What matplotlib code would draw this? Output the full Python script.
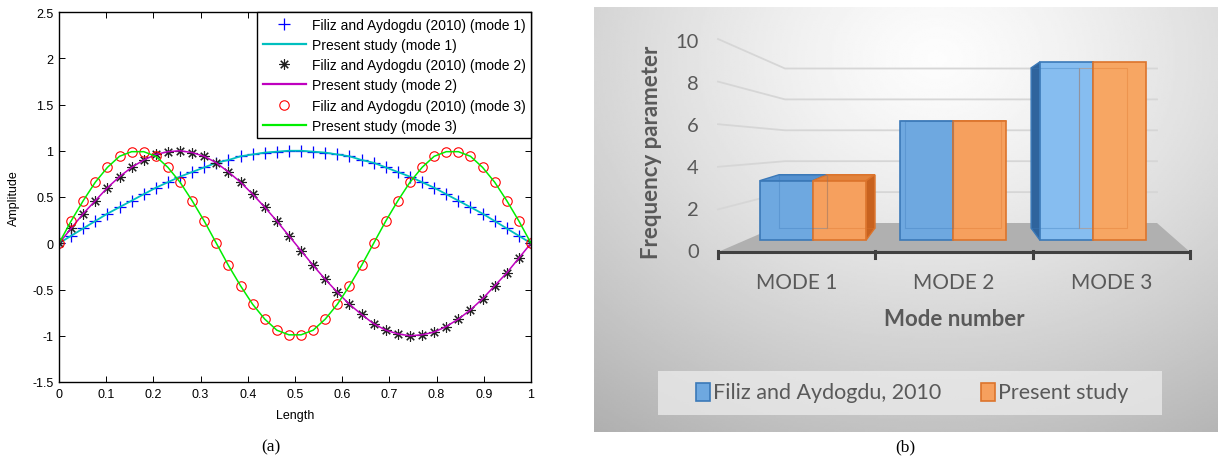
import numpy as np
import matplotlib.pyplot as plt
from matplotlib.patches import Polygon, Rectangle

plt.rcParams['axes.unicode_minus'] = False

# ---- panel (a): mode shapes at the 40 marker positions
mode1 = [0.00, 0.08, 0.16, 0.24, 0.32, 0.39, 0.46, 0.53, 0.60, 0.66,
         0.72, 0.77, 0.82, 0.87, 0.90, 0.94, 0.96, 0.98, 0.99, 1.00,
         1.00, 0.99, 0.98, 0.96, 0.94, 0.90, 0.87, 0.82, 0.77, 0.72,
         0.66, 0.60, 0.53, 0.46, 0.39, 0.32, 0.24, 0.16, 0.08, 0.00]
mode2 = [0.00, 0.16, 0.32, 0.46, 0.60, 0.72, 0.82, 0.90, 0.96, 0.99,
         1.00, 0.98, 0.94, 0.87, 0.77, 0.66, 0.53, 0.39, 0.24, 0.08,
         -0.08, -0.24, -0.39, -0.53, -0.66, -0.77, -0.87, -0.94, -0.98, -1.00,
         -0.99, -0.96, -0.90, -0.82, -0.72, -0.60, -0.46, -0.32, -0.16, 0.00]
mode3 = [0.00, 0.24, 0.46, 0.66, 0.82, 0.94, 0.99, 0.99, 0.94, 0.82,
         0.66, 0.46, 0.24, 0.00, -0.24, -0.46, -0.66, -0.82, -0.94, -0.99,
         -0.99, -0.94, -0.82, -0.66, -0.46, -0.24, 0.00, 0.24, 0.46, 0.66,
         0.82, 0.94, 0.99, 0.99, 0.94, 0.82, 0.66, 0.46, 0.24, 0.00]

# ---- panel (b): frequency parameters
mode_names = ['MODE 1', 'MODE 2', 'MODE 3']
filiz = [3.14, 6.28, 9.42]
present = [3.14, 6.28, 9.42]
yticks_b = [0, 2, 4, 6, 8, 10]

W, H = 1220, 460
fig = plt.figure(figsize=(W / 100, H / 100), dpi=100)

# ================= panel (a) =================
axa = fig.add_axes([59 / W, 1 - 383 / H, 472 / W, 370 / H])
x = np.linspace(0, 1, len(mode1))
star = (8, 2, 0)
axa.plot(x, mode1, '+', color='b', ms=8, mew=0.9, label='Filiz and Aydogdu (2010) (mode 1)')
axa.plot(x, mode1, '-', color='c', lw=1.3, label='Present study (mode 1)')
axa.plot(x, mode2, ls='none', marker=star, color='#202020', ms=7.5, mew=0.8,
         label='Filiz and Aydogdu (2010) (mode 2)')
axa.plot(x, mode2, '-', color='m', lw=1.1, label='Present study (mode 2)')
axa.plot(x, mode3, 'o', mec='r', mfc='none', ms=6.8, mew=0.8, label='Filiz and Aydogdu (2010) (mode 3)')
axa.plot(x, mode3, '-', color='#00ee00', lw=1.1, label='Present study (mode 3)')

axa.set_xlim(0, 1)
axa.set_ylim(-1.5, 2.5)
axa.set_xticks(np.arange(0, 1.01, 0.1))
axa.set_xticklabels(['0', '0.1', '0.2', '0.3', '0.4', '0.5', '0.6', '0.7', '0.8', '0.9', '1'])
axa.set_yticks(np.arange(-1.5, 2.51, 0.5))
axa.set_yticklabels(['-1.5', '-1', '-0.5', '0', '0.5', '1', '1.5', '2', '2.5'])
axa.tick_params(direction='in', top=True, right=True, length=4, width=0.7,
                labelsize=9, pad=4)
for s in axa.spines.values():
    s.set_linewidth(1.0)
for t in axa.get_xticklabels() + axa.get_yticklabels():
    t.set_family('Liberation Sans')
axa.set_xlabel('Length', family='Liberation Sans', fontsize=9, labelpad=7)
axa.set_ylabel('Amplitude', family='Liberation Sans', fontsize=9, labelpad=9)
leg = axa.legend(loc='upper right', borderaxespad=0, fancybox=False, edgecolor='k',
                 framealpha=1, prop={'family': 'Liberation Sans', 'size': 10},
                 handlelength=3.1, labelspacing=0.45, borderpad=0.4, handletextpad=0.4)
leg.get_frame().set_linewidth(1.0)
for h in leg.get_lines():
    if h.get_linestyle() == '-':
        h.set_linewidth(1.6)
fig.text(271 / W, 1 - 447 / H, '(a)', ha='center', va='center',
         family='Liberation Serif', fontsize=12.5)

# ================= panel (b) =================
BOX = (594, 8, 1218, 433)            # left, top, right, bottom (px)
axb = fig.add_axes([BOX[0] / W, 1 - BOX[3] / H, (BOX[2] - BOX[0]) / W, (BOX[3] - BOX[1]) / H])
CX0, CDX = 813, 140                  # px of category 0 centre, px per category
VY0, VDY = 241, 18.9                 # px of value 0 on bar front plane, px per unit


def d(xp, yp):
    return ((xp - CX0) / CDX, (VY0 - yp) / VDY)


x_lo, y_lo = d(BOX[0], BOX[3])
x_hi, y_hi = d(BOX[2], BOX[1])
axb.set_xlim(x_lo, x_hi)
axb.set_ylim(y_lo, y_hi)
axb.axis('off')

# grey radial backdrop
gx, gy = np.meshgrid(np.linspace(0, 1, 300), np.linspace(0, 1, 220))
dist = np.sqrt(((gx - 0.55) / 0.85) ** 2 + ((gy - 0.12) / 1.0) ** 2)
grad = np.clip(0.99 - 0.27 * dist ** 1.3, 0, 1)
axb.imshow(grad, extent=(x_lo, x_hi, y_lo, y_hi), aspect='auto', cmap='gray',
           vmin=0, vmax=1, origin='upper', zorder=0)

# floor
axb.add_patch(Polygon([d(718, 253), d(1190, 253), d(1157, 224), d(785, 224)],
                      closed=True, fc='#b0b0b0', ec='none', zorder=1))
# gridlines: side wall + back wall
for v in yticks_b[1:]:
    pts = [d(718, 253 - 21.3 * v), d(785, 224 - 15.45 * v), d(1157, 224 - 15.45 * v)]
    axb.plot([p[0] for p in pts], [p[1] for p in pts], color='#d6d6d6', lw=1.3, zorder=1)
for v in yticks_b:
    axb.text(*d(699, 253 - 21.1 * v), str(v), ha='right', va='center',
             family='Lato', fontsize=14.5, color='#595959')
axb.text(*d(652, 152), 'Frequency parameter', rotation=90, ha='center', va='center',
         family='Lato', fontweight='bold', fontsize=16, color='#595959')

# bars with fake perspective depth
W_BAR = 0.38
VP = d(953, 122)
K = 0.1


def back(p):
    return (p[0] + K * (VP[0] - p[0]), p[1] + K * (VP[1] - p[1]))


series = [(filiz, -W_BAR, ['#6ea8e0', '#6ea8e0', '#86bdf0'], '#3b79b8', '#2f649d', '#5491d0'),
          (present, 0.0, ['#f6a05e', '#f6a05e', '#f7a663'], '#dc742c', '#c8621f', '#e2833c')]
for vals, off, faces, edge, side, top in series:
    idx = np.arange(len(vals))
    axb.bar(idx + off, vals, width=W_BAR, align='edge', color=faces,
            edgecolor=edge, lw=1.2, zorder=3)
    for i, v in enumerate(vals):
        x0, x1 = i + off, i + off + W_BAR
        if v < VP[1]:
            q = [(x0, v), (x1, v), back((x1, v)), back((x0, v))]
            axb.add_patch(Polygon(q, closed=True, fc=top, ec=edge, lw=1.0, zorder=2))
        if x1 < VP[0]:
            q = [(x1, 0), (x1, v), back((x1, v)), back((x1, 0))]
            axb.add_patch(Polygon(q, closed=True, fc=side, ec=edge, lw=1.0, zorder=2))
        if x0 > VP[0]:
            q = [(x0, 0), (x0, v), back((x0, v)), back((x0, 0))]
            axb.add_patch(Polygon(q, closed=True, fc=side, ec=edge, lw=1.0, zorder=2))
        # faint back edges seen through the front face
        b = [back((x0, 0)), back((x1, 0)), back((x1, v)), back((x0, v)), back((x0, 0))]
        axb.plot([p[0] for p in b], [p[1] for p in b], color=edge, lw=0.8, alpha=0.35, zorder=4)

# category axis on the floor front edge
ax_l, ax_r = d(718, 253), d(1190, 253)
axb.plot([ax_l[0], ax_r[0]], [ax_l[1], ax_r[1]], color='#404040', lw=2.2,
         solid_capstyle='butt', zorder=5)
step = (1190 - 718) / len(mode_names)
for j in range(len(mode_names) + 1):
    t0, t1 = d(718 + step * j, 252), d(718 + step * j, 259)
    axb.plot([t0[0], t1[0]], [t0[1], t1[1]], color='#404040', lw=2.2, zorder=5)
for j, name in enumerate(mode_names):
    axb.text(*d(718 + step * (j + 0.5), 283), name, ha='center', va='center',
             family='Lato', fontsize=15, color='#595959')
axb.text(*d(954, 320), 'Mode number', ha='center', va='center',
         family='Lato', fontweight='bold', fontsize=16, color='#595959')

# legend strip
lx0, ly0 = d(658, 416)
lx1, ly1 = d(1162, 372)
axb.add_patch(Rectangle((lx0, ly0), lx1 - lx0, ly1 - ly0, fc='#ececec', ec='none',
                        alpha=0.75, zorder=5))
for xs, lab, face, edge in [(696, 'Filiz and Aydogdu, 2010', '#6ea8e0', '#3b79b8'),
                            (981, 'Present study', '#f6a05e', '#dc742c')]:
    sx0, sy0 = d(xs, 402)
    sx1, sy1 = d(xs + 14, 384)
    axb.add_patch(Rectangle((sx0, sy0), sx1 - sx0, sy1 - sy0, fc=face, ec=edge,
                            lw=1.2, zorder=6))
    axb.text(*d(xs + 17, 393), lab, ha='left', va='center', family='Lato',
             fontsize=15.5, color='#595959', zorder=6)

fig.text(905 / W, 1 - 447 / H, '(b)', ha='center', va='center',
         family='Liberation Serif', fontsize=12.5)

fig.savefig('out.png', dpi=100)
